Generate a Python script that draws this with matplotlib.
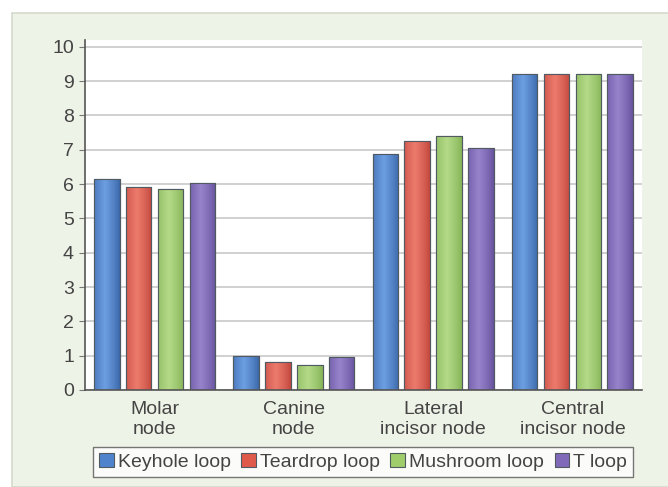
import numpy as np
import matplotlib
matplotlib.use("Agg")
import matplotlib.pyplot as plt
from matplotlib.patches import Rectangle
from matplotlib.colors import to_rgb

plt.rcParams['font.family'] = ['Liberation Sans', 'DejaVu Sans']

categories = ["Molar\nnode", "Canine\nnode", "Lateral\nincisor node", "Central\nincisor node"]
series_names = ["Keyhole loop", "Teardrop loop", "Mushroom loop", "T loop"]
keyhole = [6.15, 0.99, 6.89, 9.2]
teardrop = [5.91, 0.83, 7.27, 9.2]
mushroom = [5.85, 0.74, 7.41, 9.2]
t_loop = [6.04, 0.96, 7.04, 9.2]

# base / highlight / shadow colour for each series
colors = ["#4f84cc", "#e05a4c", "#9fcd6c", "#7f69b8"]
lights = ["#6c9ee2", "#ec7b6c", "#b4da88", "#9683cc"]
darks = ["#3a67a8", "#c2463c", "#84b356", "#66519c"]

text_color = "#444444"
fs = 14

fig = plt.figure(figsize=(6.68, 4.87), dpi=100)
fig.patch.set_facecolor("white")
# light panel behind the chart
panel = Rectangle((12 / 668, 0), 1, 1 - 13 / 487, transform=fig.transFigure,
                  facecolor="#eef3e7", edgecolor="#d4d9cc", linewidth=1.2, zorder=-10)
fig.add_artist(panel)

ax = fig.add_axes([85 / 668, 1 - 390 / 487, (642 - 85) / 668, (390 - 40) / 487])
ax.set_facecolor("white")

x = np.arange(len(categories))
step = 0.229
width = 0.183

# horizontal shading profile: dark edges, highlight a bit left of centre
t = np.linspace(0, 1, 64)
prof = np.clip(1 - np.abs(t - 0.42) / 0.58, 0, 1) ** 0.8

for i, (vals, name) in enumerate(zip([keyhole, teardrop, mushroom, t_loop], series_names)):
    bars = ax.bar(x + (i - 1.5) * step, vals, width, color=colors[i], edgecolor="#505a60",
                  linewidth=0.8, label=name, zorder=3)
    lo = np.array(to_rgb(darks[i]))
    hi = np.array(to_rgb(lights[i]))
    grad = (lo[None, :] * (1 - prof[:, None]) + hi[None, :] * prof[:, None])[None, :, :]
    for b in bars:
        x0, w, h = b.get_x(), b.get_width(), b.get_height()
        im = ax.imshow(grad, extent=(x0, x0 + w, 0, h), aspect="auto", zorder=3.5,
                       interpolation="bilinear")
        im.set_clip_path(b)
        # outline on top of the shading
        ax.add_patch(Rectangle((x0, 0), w, h, fill=False, edgecolor="#505a60",
                               linewidth=0.8, zorder=4))

ax.set_xlim(-0.5, 3.5)
ax.set_ylim(0, 10.2)
ax.set_yticks(range(0, 11))
ax.yaxis.grid(True, color="#c8c8c8", linewidth=1.2, zorder=0)
ax.set_xticks(x)
ax.set_xticklabels(categories, fontsize=fs, color=text_color, linespacing=1.25)
ax.tick_params(axis="x", length=0, pad=8)
ax.tick_params(axis="y", labelsize=fs, labelcolor=text_color, length=4, color="#777777", pad=4)
for s in ["top", "right"]:
    ax.spines[s].set_visible(False)
ax.spines["left"].set_color("#555555")
ax.spines["bottom"].set_color("#555555")
ax.spines["left"].set_linewidth(1.2)
ax.spines["bottom"].set_linewidth(1.2)
ax.spines["left"].set_zorder(5)
ax.spines["bottom"].set_zorder(5)

leg = fig.legend(loc="center", bbox_to_anchor=(363 / 668, 1 - 462 / 487), ncol=4, fontsize=fs,
                 frameon=True, fancybox=False, handlelength=0.75, handleheight=0.75,
                 handletextpad=0.2, columnspacing=0.55, borderpad=0.3, labelcolor=text_color)
leg.get_frame().set_edgecolor("#555555")
leg.get_frame().set_linewidth(1.0)
leg.get_frame().set_facecolor("white")

fig.savefig("out.png", dpi=100)
